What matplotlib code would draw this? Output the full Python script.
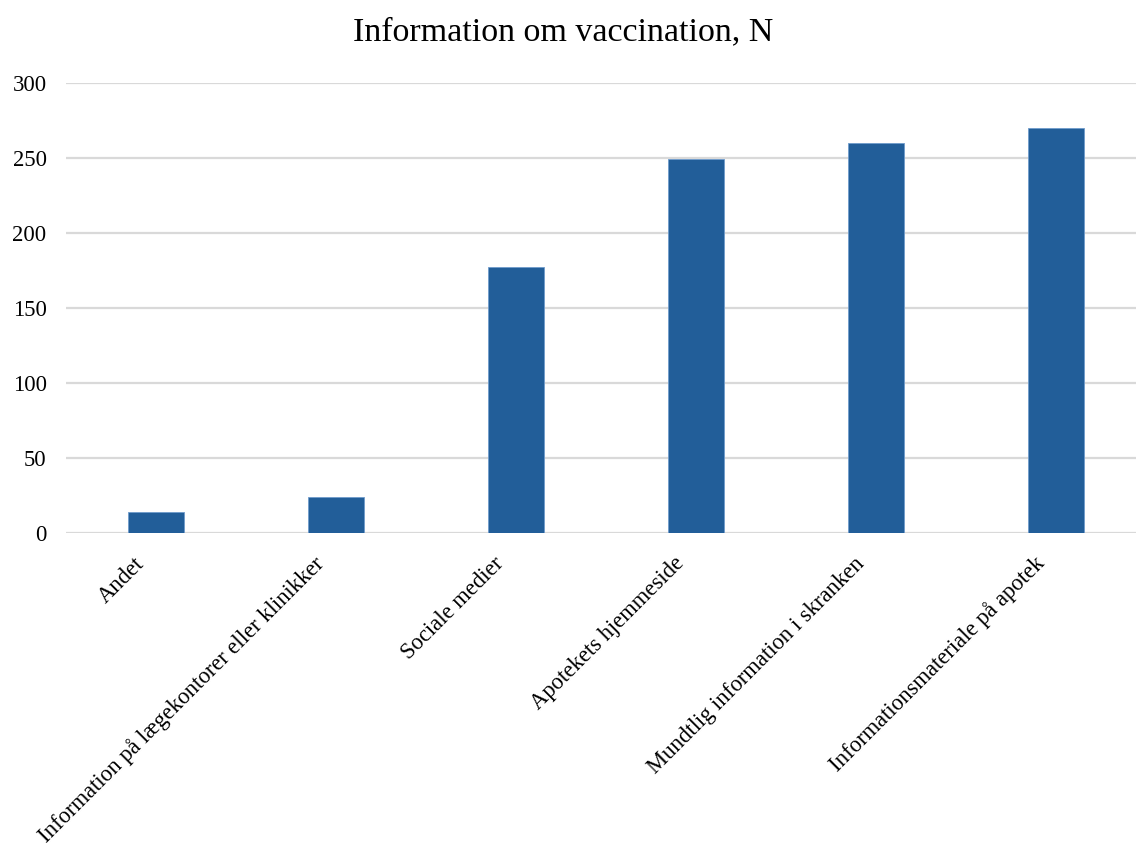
import numpy as np
import matplotlib.pyplot as plt
import matplotlib.transforms as mtransforms

categories = [
    "Andet",
    "Information på lægekontorer eller klinikker",
    "Sociale medier",
    "Apotekets hjemmeside",
    "Mundtlig information i skranken",
    "Informationsmateriale på apotek",
]
counts = [14, 24, 177, 249, 260, 270]
yticks = [0, 50, 100, 150, 200, 250, 300]

plt.rcParams["font.family"] = ["Liberation Serif", "DejaVu Serif"]

fig = plt.figure(figsize=(11.36, 8.43), dpi=100)
ax = fig.add_axes([66 / 1136, 1 - 532.7 / 843, 1080 / 1136, 450 / 843])

x = np.arange(len(categories))
ax.bar(x, counts, width=0.306, color="#225e99", edgecolor="#6f9bcc",
       linewidth=0.6, zorder=3)

ax.set_xlim(-0.5, len(categories) - 0.5)
ax.set_ylim(0, 300)
ax.set_yticks(yticks)
ax.yaxis.grid(True, color="#d9d9d9", linewidth=1.6, zorder=0)
ax.set_axisbelow(True)
for s in ax.spines.values():
    s.set_visible(False)
ax.tick_params(axis="both", length=0, labelsize=16.3)
ax.tick_params(axis="y", pad=14)

ax.set_xticks(x)
ax.set_xticklabels(categories, rotation=45, ha="right", va="center",
                   rotation_mode="anchor")
ax.tick_params(axis="x", pad=20)
# nudge the slanted labels a little to the left
shift = mtransforms.ScaledTranslation(-15 / 100, 0, fig.dpi_scale_trans)
for lbl in ax.get_xticklabels():
    lbl.set_transform(lbl.get_transform() + shift)

fig.suptitle("Information om vaccination, N", fontsize=24.5, x=0.496, y=0.98)

fig.savefig("out.png", dpi=100)
